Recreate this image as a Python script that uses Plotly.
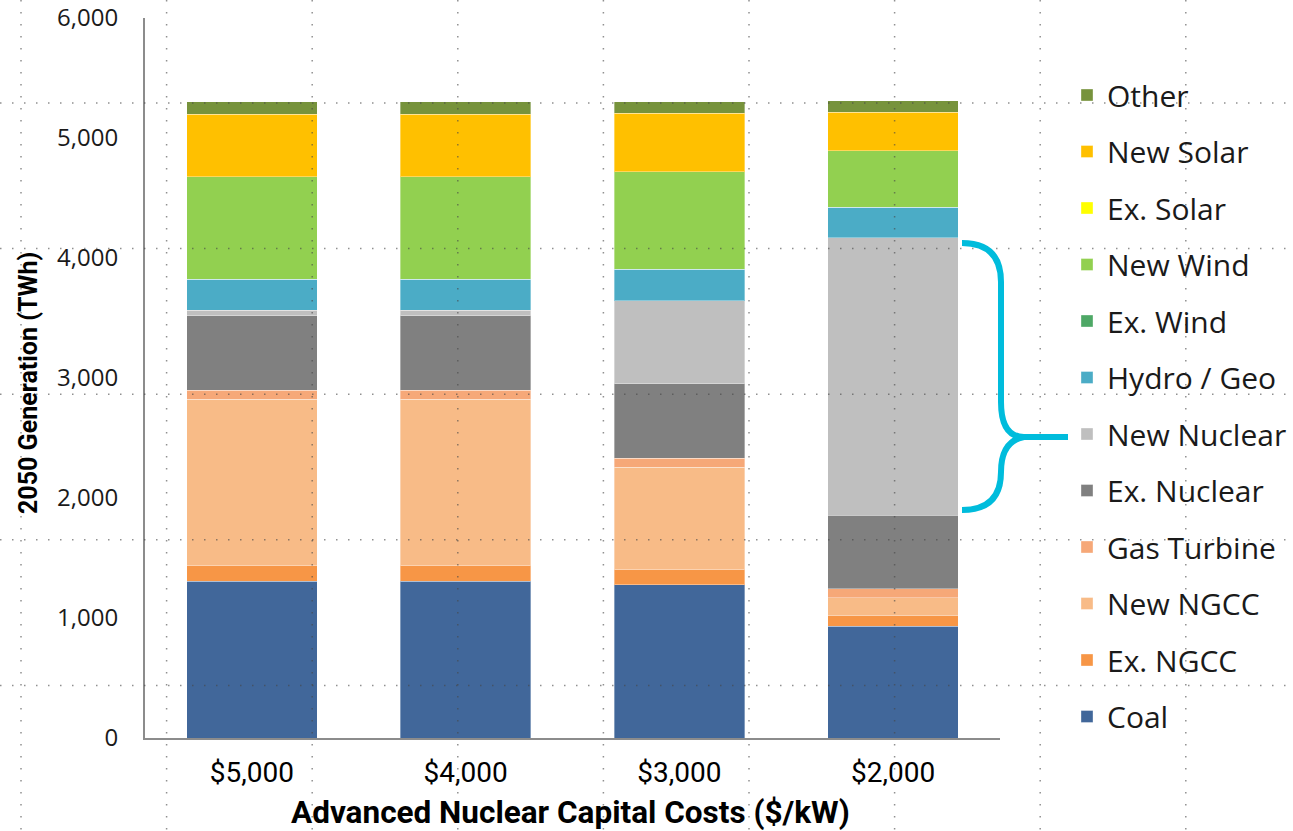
import plotly.graph_objects as go

# ---------------- data (TWh) ----------------
categories = ["$5,000", "$4,000", "$3,000", "$2,000"]

coal        = [1308, 1308, 1278, 933]
ex_ngcc     = [131, 131, 130, 84]
new_ngcc    = [1383, 1383, 848, 152]
gas_turbine = [75, 75, 75, 75]
ex_nuclear  = [620, 620, 622, 614]
new_nuclear = [47, 47, 689, 2309]
hydro_geo   = [258, 258, 266, 258]
ex_wind     = [0, 0, 0, 0]
new_wind    = [856, 856, 811, 467]
ex_solar    = [0, 0, 0, 0]
new_solar   = [522, 522, 487, 322]
other       = [103, 103, 97, 97]

series_names = ["Coal", "Ex. NGCC", "New NGCC", "Gas Turbine", "Ex. Nuclear",
                "New Nuclear", "Hydro / Geo", "Ex. Wind", "New Wind",
                "Ex. Solar", "New Solar", "Other"]
series_values = [coal, ex_ngcc, new_ngcc, gas_turbine, ex_nuclear, new_nuclear,
                 hydro_geo, ex_wind, new_wind, ex_solar, new_solar, other]
series_colors = ["#41679A", "#F79646", "#F8BB87", "#F6A878", "#808080", "#BFBFBF",
                 "#4BACC6", "#4EA866", "#92D050", "#FFFF00", "#FFC000", "#77933C"]

y_ticks = [0, 1000, 2000, 3000, 4000, 5000, 6000]

# ---------------- layout geometry ----------------
W, H = 1293, 831
PL, PR, PT, PB = 145, 1000, 18, 738


def px_x(px):
    return (px - PL) / (PR - PL)


def px_y(py):
    return (PB - py) / (PB - PT)


fig = go.Figure()
n_series = len(series_names)
for i, (name, vals, col) in enumerate(zip(series_names, series_values, series_colors)):
    fig.add_trace(go.Bar(
        x=categories, y=vals, name=name, legendgroup=name,
        legendrank=100 + (n_series - i),
        marker=dict(color=col, line=dict(color="rgba(255,255,255,0.35)", width=1)),
    ))

shapes = []

# slide guide grid (dotted) across the whole picture
GRID_X0, GRID_Y0, GRID_STEP = 21, 103, 145.6
for k in range(9):
    gx = GRID_X0 + k * GRID_STEP
    shapes.append(dict(type="line", xref="paper", yref="paper",
                       x0=px_x(gx), x1=px_x(gx), y0=px_y(0), y1=px_y(H),
                       line=dict(color="rgba(70,70,70,0.6)", width=1.5, dash="1.5px,10.5px"),
                       layer="above"))
for k in range(5):
    gy = GRID_Y0 + k * GRID_STEP
    shapes.append(dict(type="line", xref="paper", yref="paper",
                       x0=px_x(0), x1=px_x(W), y0=px_y(gy), y1=px_y(gy),
                       line=dict(color="rgba(70,70,70,0.6)", width=1.5, dash="1.5px,10.5px"),
                       layer="above"))

# cyan curly bracket next to the New Nuclear block of the last bar
brace_px = [("M", 962, 243), ("Q", 1001, 243, 1001, 282), ("L", 1001, 402),
            ("Q", 1001, 437, 1024, 437), ("L", 1068, 437), ("M", 1024, 437),
            ("Q", 1001, 441, 1001, 472), ("Q", 1001, 510, 962, 510)]
parts = []
for seg in brace_px:
    cmd, coords = seg[0], seg[1:]
    pts = []
    for i in range(0, len(coords), 2):
        pts.append(f"{px_x(coords[i]):.5f},{px_y(coords[i+1]):.5f}")
    parts.append(cmd + " " + " ".join(pts))
shapes.append(dict(type="path", xref="paper", yref="paper", path=" ".join(parts),
                   line=dict(color="#00BCDC", width=6), layer="above"))

annotations = [
    dict(text="<b>Advanced Nuclear Capital Costs ($/kW)</b>", xref="paper", yref="paper",
         x=px_x(570), y=px_y(812), showarrow=False, xanchor="center", yanchor="middle",
         font=dict(family="Roboto", size=31.5, color="#000000")),
    dict(text="<b>2050 Generation (TWh)</b>", xref="paper", yref="paper",
         x=px_x(28), y=px_y(383), showarrow=False, textangle=-90,
         xanchor="center", yanchor="middle",
         font=dict(family="Roboto", size=25, color="#000000")),
]

fig.update_layout(
    width=W, height=H,
    margin=dict(l=PL, r=W - PR, t=PT, b=H - PB, autoexpand=False),
    paper_bgcolor="white", plot_bgcolor="white",
    barmode="stack", bargap=0.39,
    showlegend=True,
    legend=dict(x=px_x(1067), y=px_y(69), xanchor="left", yanchor="top",
                traceorder="grouped", tracegroupgap=14.5,
                font=dict(family="Open Sans", size=30, color="#1A1A1A"),
                bgcolor="rgba(0,0,0,0)", borderwidth=0),
    xaxis=dict(type="category", range=[-0.5, 3.5], showline=True, linecolor="#8C8C8C",
               linewidth=2, showgrid=False, ticks="", ticklabelstandoff=8,
               tickfont=dict(family="Roboto", size=28, color="#000000"), zeroline=False),
    yaxis=dict(range=[0, 6000], tickvals=y_ticks, tickformat=",", showline=True,
               linecolor="#8C8C8C", linewidth=2, showgrid=False, zeroline=False,
               ticks="", ticklabelstandoff=20,
               tickfont=dict(family="Open Sans", size=24, color="#1A1A1A")),
    shapes=shapes, annotations=annotations,
)

fig.write_html("out.html")
